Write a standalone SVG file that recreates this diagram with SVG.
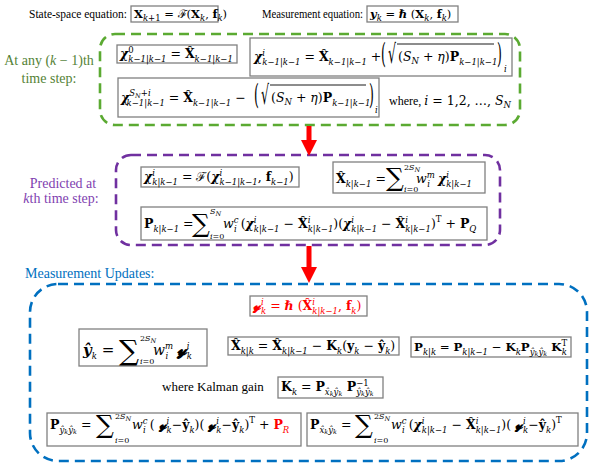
<svg xmlns="http://www.w3.org/2000/svg" width="594" height="465" viewBox="0 0 594 465">
<style>
.m{font-family:"DejaVu Serif","Liberation Serif",serif;font-size:12.5px;fill:#000}
.i{font-style:italic}
.b{font-weight:bold}
.bi{font-weight:bold;font-style:italic}
.s{font-size:8.5px}
.lim{font-size:8px}
.ss{font-size:6.5px}
.sum{font-family:"DejaVu Serif",serif;font-size:25px;fill:#000}
.box{fill:#fff;stroke:#808080;stroke-width:1.3}
.lbl{font-family:"Liberation Serif",serif;font-size:11.5px;fill:#000}
.grp{fill:none;stroke-width:2.6;stroke-dasharray:10 6}
.red{fill:#ff0000}
.ov{stroke:#000;stroke-width:0.9}
</style>
<defs>
<marker id="ah" viewBox="0 0 16 16" refX="1" refY="8" markerWidth="16" markerHeight="16" markerUnits="userSpaceOnUse" orient="auto">
<path d="M0,0 L16,8 L0,16 z" fill="#ff0000"/>
</marker>
</defs>
<rect width="594" height="465" fill="#fff"/>

<g id="state-eq">
<text class="lbl" x="29" y="18">State-space equation:</text>
<rect class="box" x="131" y="6" width="87" height="16"/>
<text class="m" x="134" y="18" style="font-size:11.5px"><tspan class="b">X</tspan><tspan class="s i" dy="3">k</tspan><tspan class="s">+1</tspan><tspan dy="-3"> = ℱ(</tspan><tspan class="b">X</tspan><tspan class="s i" dy="3">k</tspan><tspan dy="-3">, </tspan><tspan class="b">f</tspan><tspan class="s i" dy="3">k</tspan><tspan dy="-3">)</tspan></text>
</g>

<g id="meas-eq">
<text class="lbl" x="262" y="18" textLength="101" lengthAdjust="spacingAndGlyphs">Measurement equation:</text>
<rect class="box" x="367" y="6" width="91" height="16"/>
<text class="m" x="370" y="18" style="font-size:11.5px"><tspan class="bi">y</tspan><tspan class="s i" dy="3">k</tspan><tspan dy="-3"> = </tspan><tspan class="bi">ℏ</tspan><tspan> (</tspan><tspan class="b">X</tspan><tspan class="s i" dy="3">k</tspan><tspan dy="-3">, </tspan><tspan class="b">f</tspan><tspan class="s i" dy="3">k</tspan><tspan dy="-3">)</tspan></text>
</g>

<g id="sigma-points">
<rect class="grp" x="100" y="34" width="420" height="91" rx="15" stroke="#5BAA32"/>
<text font-family="Liberation Serif" font-size="14" fill="#548235" text-anchor="middle"><tspan x="49" y="65">At any (<tspan font-style="italic">k</tspan> − 1)th</tspan><tspan x="49" y="83">time step:</tspan></text>
</g>

<g id="chi0">
<rect class="box" x="117" y="45" width="120" height="18"/>
<text class="m" x="120" y="58"><tspan class="bi">χ</tspan><tspan class="s" dy="-5.5">0</tspan><tspan class="s i" dx="-5.4" dy="9.5">k−1|k−1</tspan><tspan dy="-4"> = </tspan><tspan class="b">X̂</tspan><tspan class="s i" dy="3.5">k−1|k−1</tspan></text>
</g>

<g id="chi-plus">
<rect class="box" x="250" y="38" width="262" height="38"/>
<text class="m" x="254" y="61"><tspan class="bi">χ</tspan><tspan class="s i" dy="-5.5">i</tspan><tspan class="s i" dx="-2.7" dy="9.5">k−1|k−1</tspan><tspan dy="-4"> = </tspan><tspan class="b">X̂</tspan><tspan class="s i" dy="3.5">k−1|k−1</tspan><tspan dy="-3.5"> +</tspan></text>
<text class="m" transform="translate(381,63) scale(1,2.3)">(</text>
<text class="m" transform="translate(388,63) scale(1,2.1)">√</text>
<line class="ov" x1="397" y1="44" x2="494" y2="44"/>
<text class="m" x="398" y="61"><tspan>(</tspan><tspan class="i">S</tspan><tspan class="s i" dy="3">N</tspan><tspan dy="-3"> + </tspan><tspan class="i">η</tspan><tspan>)</tspan><tspan class="b">P</tspan><tspan class="s i" dy="3.5">k−1|k−1</tspan></text>
<text class="m" transform="translate(497,63) scale(1,2.3)">)</text>
<text class="m s i" x="504" y="72">i</text>
</g>

<g id="chi-minus">
<rect class="box" x="118" y="78" width="261" height="39"/>
<text class="m" x="121" y="102"><tspan class="bi">χ</tspan><tspan class="s i" dy="-6">S</tspan><tspan class="ss i" dy="2">N</tspan><tspan class="s" dy="-2">+</tspan><tspan class="s i">i</tspan><tspan class="s i" dx="-24" dy="10">k−1|k−1</tspan><tspan dy="-4"> = </tspan><tspan class="b">X̂</tspan><tspan class="s i" dy="3.5">k−1|k−1</tspan><tspan dy="-3.5"> −</tspan></text>
<text class="m" transform="translate(254,104) scale(1,2.3)">(</text>
<text class="m" transform="translate(261,104) scale(1,2.1)">√</text>
<line class="ov" x1="270" y1="85" x2="366" y2="85"/>
<text class="m" x="271" y="102"><tspan>(</tspan><tspan class="i">S</tspan><tspan class="s i" dy="3">N</tspan><tspan dy="-3"> + </tspan><tspan class="i">η</tspan><tspan>)</tspan><tspan class="b">P</tspan><tspan class="s i" dy="3.5">k−1|k−1</tspan></text>
<text class="m" transform="translate(369,104) scale(1,2.3)">)</text>
<text class="m s i" x="375" y="113">i</text>
<text class="m" x="389" y="105"><tspan font-family="Liberation Serif" style="font-size:12px">where, </tspan><tspan class="i">i</tspan><tspan> = 1,2, …, </tspan><tspan class="i">S</tspan><tspan class="s i" dy="3">N</tspan></text>
</g>

<g id="prediction">
<rect class="grp" x="116" y="155" width="384" height="90" rx="15" stroke="#7030A0"/>
<text font-family="Liberation Serif" font-size="14" fill="#7F3FB0" text-anchor="middle"><tspan x="63" y="188">Predicted at</tspan><tspan x="61" y="203"><tspan font-style="italic">k</tspan>th time step:</tspan></text>
</g>

<g id="chi-pred">
<rect class="box" x="141" y="167" width="158" height="20"/>
<text class="m" x="144" y="181"><tspan class="bi">χ</tspan><tspan class="s i" dy="-5.5">i</tspan><tspan class="s i" dx="-2.7" dy="9.5">k|k−1</tspan><tspan dy="-4"> = ℱ(</tspan><tspan class="bi">χ</tspan><tspan class="s i" dy="-5.5">i</tspan><tspan class="s i" dx="-2.7" dy="9.5">k−1|k−1</tspan><tspan dy="-4">, </tspan><tspan class="b">f</tspan><tspan class="s i" dy="3.5">k−1</tspan><tspan dy="-3.5">)</tspan></text>
</g>

<g id="x-pred">
<rect class="box" x="333" y="162" width="152" height="31"/>
<text class="m" x="336" y="183"><tspan class="b">X̂</tspan><tspan class="s i" dy="3.5">k|k−1</tspan><tspan dy="-3.5"> =</tspan></text>
<text class="sum" x="386" y="186">∑</text>
<text class="m lim" x="404" y="170">2<tspan class="i">S</tspan><tspan class="ss i" dy="2">N</tspan></text>
<text class="m lim i" x="404" y="192">i<tspan font-style="normal">=0</tspan></text>
<text class="m" x="416" y="183"><tspan class="i">w</tspan><tspan class="s i" dy="-5.5">m</tspan><tspan class="s i" dx="-7.5" dy="9.5">i</tspan><tspan dy="-4" dx="4"> </tspan><tspan class="bi">χ</tspan><tspan class="s i" dy="-5.5">i</tspan><tspan class="s i" dx="-2.7" dy="9.5">k|k−1</tspan></text>
</g>

<g id="p-pred">
<rect class="box" x="141" y="207" width="346" height="33"/>
<text class="m" x="144" y="228"><tspan class="b">P</tspan><tspan class="s i" dy="3.5">k|k−1</tspan><tspan dy="-3.5"> =</tspan></text>
<text class="sum" x="192" y="232">∑</text>
<text class="m lim i" x="210" y="214">S<tspan class="ss" dy="2">N</tspan></text>
<text class="m lim i" x="210" y="239">i<tspan font-style="normal">=0</tspan></text>
<text class="m" x="223" y="228"><tspan class="i">w</tspan><tspan class="s i" dy="-5.5">c</tspan><tspan class="s i" dx="-4.5" dy="9.5">i</tspan><tspan dy="-4"> (</tspan><tspan class="bi">χ</tspan><tspan class="s i" dy="-5.5">i</tspan><tspan class="s i" dx="-2.7" dy="9.5">k|k−1</tspan><tspan dy="-4"> − </tspan><tspan class="b">X̂</tspan><tspan class="s i" dy="-5.5">i</tspan><tspan class="s i" dx="-2.7" dy="9.5">k|k−1</tspan><tspan dy="-4">)(</tspan><tspan class="bi">χ</tspan><tspan class="s i" dy="-5.5">i</tspan><tspan class="s i" dx="-2.7" dy="9.5">k|k−1</tspan><tspan dy="-4"> − </tspan><tspan class="b">X̂</tspan><tspan class="s i" dy="-5.5">i</tspan><tspan class="s i" dx="-2.7" dy="9.5">k|k−1</tspan><tspan dy="-4">)</tspan><tspan class="s" dy="-6">T</tspan><tspan dy="6"> + </tspan><tspan class="b">P</tspan><tspan class="s i" dy="3.5">Q</tspan></text>
</g>

<g id="update">
<rect class="grp" x="30" y="284" width="557" height="177" rx="28" stroke="#0070C0"/>
<text font-family="Liberation Serif" font-size="14" fill="#0070C0" x="25" y="278">Measurement Updates:</text>
</g>

<g id="y-sigma">
<rect class="box" x="250" y="296" width="117" height="20"/>
<text class="m red" x="253" y="310"><tspan class="bi">𝔂</tspan><tspan class="s i" dy="-5.5">i</tspan><tspan class="s i" dx="-2.7" dy="9.5">k</tspan><tspan dy="-4"> = </tspan><tspan class="bi">ℏ</tspan><tspan> (</tspan><tspan class="b">X̂</tspan><tspan class="s i" dy="-5.5">i</tspan><tspan class="s i" dx="-2.7" dy="9.5">k|k−1</tspan><tspan dy="-4">, </tspan><tspan class="b">f</tspan><tspan class="s i" dy="3.5">k</tspan><tspan dy="-3.5">)</tspan></text>
</g>

<g id="y-mean">
<rect class="box" x="79" y="329" width="128" height="37"/>
<text class="m" x="83" y="355" style="font-size:15px"><tspan class="bi">ŷ</tspan><tspan class="s i" dy="3.5">k</tspan><tspan dy="-3.5"> =</tspan></text>
<text class="sum" x="119" y="360" style="font-size:28px">∑</text>
<text class="m lim" x="140" y="341">2<tspan class="i">S</tspan><tspan class="ss i" dy="2">N</tspan></text>
<text class="m lim i" x="140" y="364">i<tspan font-style="normal">=0</tspan></text>
<text class="m" x="153" y="355" style="font-size:14px"><tspan class="i">w</tspan><tspan class="s i" dy="-6">m</tspan><tspan class="s i" dx="-7.5" dy="10">i</tspan><tspan dy="-4" dx="4"> </tspan><tspan class="bi" style="font-size:16px">𝔂</tspan><tspan class="s i" dy="-6">i</tspan><tspan class="s i" dx="-2.7" dy="10">k</tspan></text>
</g>

<g id="x-upd">
<rect class="box" x="228" y="337" width="171" height="18"/>
<text class="m" x="231" y="350"><tspan class="b">X̂</tspan><tspan class="s i" dy="3.5">k|k</tspan><tspan dy="-3.5"> = </tspan><tspan class="b">X̂</tspan><tspan class="s i" dy="3.5">k|k−1</tspan><tspan dy="-3.5"> − </tspan><tspan class="b">K</tspan><tspan class="s i" dy="3.5">k</tspan><tspan dy="-3.5">(</tspan><tspan class="b">y</tspan><tspan class="s i" dy="3.5">k</tspan><tspan dy="-3.5"> − </tspan><tspan class="b">ŷ</tspan><tspan class="s i" dy="3.5">k</tspan><tspan dy="-3.5">)</tspan></text>
</g>

<g id="p-upd">
<rect class="box" x="411" y="337" width="160" height="20"/>
<text class="m" x="414" y="351" style="font-size:11.8px"><tspan class="b">P</tspan><tspan class="s i" dy="3.5">k|k</tspan><tspan dy="-3.5"> = </tspan><tspan class="b">P</tspan><tspan class="s i" dy="3.5">k|k−1</tspan><tspan dy="-3.5"> − </tspan><tspan class="b">K</tspan><tspan class="s i" dy="3.5">k</tspan><tspan dy="-3.5" class="b">P</tspan><tspan class="s i" dy="3.5">ŷ</tspan><tspan class="ss i" dy="1.5">k</tspan><tspan class="s i" dy="-1.5">ŷ</tspan><tspan class="ss i" dy="1.5">k</tspan><tspan dy="-5" class="b"> K</tspan><tspan class="s" dy="-5.5">T</tspan><tspan class="s i" dx="-5.5" dy="9.5">k</tspan></text>
</g>

<g id="gain">
<text font-family="Liberation Serif" font-size="13" x="162" y="391">where Kalman gain</text>
<rect class="box" x="278" y="377" width="105" height="21"/>
<text class="m" x="281" y="391"><tspan class="b">K</tspan><tspan class="s i" dy="3.5">k</tspan><tspan dy="-3.5"> = </tspan><tspan class="b">P</tspan><tspan class="s i" dy="3.5">x̂</tspan><tspan class="ss i" dy="1.5">k</tspan><tspan class="s i" dy="-1.5">ŷ</tspan><tspan class="ss i" dy="1.5">k</tspan><tspan dy="-5" class="b"> P</tspan><tspan class="s" dy="-5.5">−1</tspan><tspan class="s i" dx="-12.5" dy="9">ŷ</tspan><tspan class="ss i" dy="1.5">k</tspan><tspan class="s i" dy="-1.5">ŷ</tspan><tspan class="ss i" dy="1.5">k</tspan></text>
</g>

<g id="p-yy">
<rect class="box" x="47" y="413" width="254" height="33"/>
<text class="m" x="50" y="429"><tspan class="b">P</tspan><tspan class="s i" dy="3.5">ŷ</tspan><tspan class="ss i" dy="1.5">k</tspan><tspan class="s i" dy="-1.5">ŷ</tspan><tspan class="ss i" dy="1.5">k</tspan><tspan dy="-5"> =</tspan></text>
<text class="sum" x="96" y="433">∑</text>
<text class="m lim" x="115" y="419">2<tspan class="i">S</tspan><tspan class="ss i" dy="2">N</tspan></text>
<text class="m lim i" x="115" y="443">i<tspan font-style="normal">=0</tspan></text>
<text class="m" x="132" y="429"><tspan class="i">w</tspan><tspan class="s i" dy="-5.5">c</tspan><tspan class="s i" dx="-4.5" dy="9.5">i</tspan><tspan dy="-4"> ( </tspan><tspan class="bi">𝔂</tspan><tspan class="s i" dy="-5.5">i</tspan><tspan class="s i" dx="-2.7" dy="9.5">k</tspan><tspan dy="-4">−</tspan><tspan class="b">ŷ</tspan><tspan class="s i" dy="3.5">k</tspan><tspan dy="-3.5">)( </tspan><tspan class="bi">𝔂</tspan><tspan class="s i" dy="-5.5">i</tspan><tspan class="s i" dx="-2.7" dy="9.5">k</tspan><tspan dy="-4">−</tspan><tspan class="b">ŷ</tspan><tspan class="s i" dy="3.5">k</tspan><tspan dy="-3.5">)</tspan><tspan class="s" dy="-6">T</tspan><tspan dy="6"> + </tspan><tspan class="b red">P</tspan><tspan class="s i red" dy="3.5">R</tspan></text>
</g>

<g id="p-xy">
<rect class="box" x="307" y="413" width="271" height="33"/>
<text class="m" x="310" y="429"><tspan class="b">P</tspan><tspan class="s i" dy="3.5">x̂</tspan><tspan class="ss i" dy="1.5">k</tspan><tspan class="s i" dy="-1.5">ŷ</tspan><tspan class="ss i" dy="1.5">k</tspan><tspan dy="-5"> =</tspan></text>
<text class="sum" x="355" y="433">∑</text>
<text class="m lim" x="374" y="419">2<tspan class="i">S</tspan><tspan class="ss i" dy="2">N</tspan></text>
<text class="m lim i" x="374" y="443">i<tspan font-style="normal">=0</tspan></text>
<text class="m" x="391" y="429"><tspan class="i">w</tspan><tspan class="s i" dy="-5.5">c</tspan><tspan class="s i" dx="-4.5" dy="9.5">i</tspan><tspan dy="-4"> (</tspan><tspan class="bi">χ</tspan><tspan class="s i" dy="-5.5">i</tspan><tspan class="s i" dx="-2.7" dy="9.5">k|k−1</tspan><tspan dy="-4"> − </tspan><tspan class="b">X̂</tspan><tspan class="s i" dy="-5.5">i</tspan><tspan class="s i" dx="-2.7" dy="9.5">k|k−1</tspan><tspan dy="-4">)( </tspan><tspan class="bi">𝔂</tspan><tspan class="s i" dy="-5.5">i</tspan><tspan class="s i" dx="-2.7" dy="9.5">k</tspan><tspan dy="-4">−</tspan><tspan class="b">ŷ</tspan><tspan class="s i" dy="3.5">k</tspan><tspan dy="-3.5">)</tspan><tspan class="s" dy="-6">T</tspan></text>
</g>

<g id="connectors">
<line x1="309" y1="126" x2="309" y2="141" stroke="#ff0000" stroke-width="5" marker-end="url(#ah)"/>
<line x1="309" y1="246" x2="309" y2="268" stroke="#ff0000" stroke-width="5" marker-end="url(#ah)"/>
</g>
</svg>
